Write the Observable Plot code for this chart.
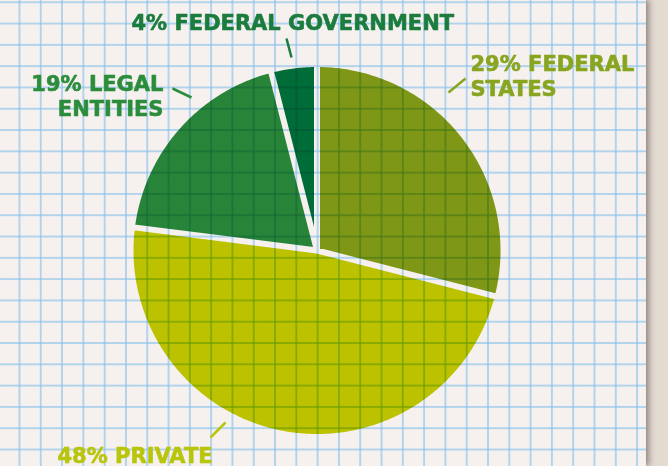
<!DOCTYPE html>
<html>
<head>
<meta charset="utf-8">
<script src="https://cdn.jsdelivr.net/npm/d3@7"></script>
<script src="https://cdn.jsdelivr.net/npm/@observablehq/plot@0.6"></script>
<style>
  html, body { margin: 0; padding: 0; }
  #stage {
    position: relative; width: 668px; height: 466px; overflow: hidden;
    background: #e4dbd3;
  }
  #paper {
    position: absolute; left: 0; top: 0; width: 646px; height: 466px;
    background-color: #f6f1ef;
    background-image:
      linear-gradient(to right, rgba(135,192,234,0.62) 1.6px, transparent 1.6px),
      linear-gradient(to bottom, rgba(135,192,234,0.62) 1.6px, transparent 1.6px);
    background-size: 21.3px 21.3px;
    background-position: 18.5px 1.3px;
    box-shadow: 3px 0 6px rgba(60,50,45,0.5);
  }
  #chart { position: absolute; left: 0; top: 0; }
</style>
</head>
<body>
<div id="stage"><div id="paper"></div><div id="chart"></div></div>
<script>
// ---- data ----
const categories = ["Federal states", "Private", "Legal entities", "Federal government"];
const shares = [29, 48, 19, 4];
const labels = ["29% FEDERAL\nSTATES", "48% PRIVATE", "19% LEGAL\nENTITIES", "4% FEDERAL GOVERNMENT"];
const sliceColors = ["#84a018", "#c4ce00", "#288c3b", "#00723a"];
const textColors = ["#88a520", "#b8c50a", "#2b8d3b", "#1b7c3e"];

// ---- layout (pixels) ----
const pie = {cx: 316.5, cy: 250, r: 186.5};
const labelLayout = [
  {tx: 470, ty: 95, anchor: "start", x1: 448, y1: 92, x2: 465, y2: 78},
  {tx: 57, ty: 462, anchor: "start", x1: 210, y1: 437, x2: 225, y2: 422},
  {tx: 163, ty: 115, anchor: "end", x1: 172, y1: 88, x2: 191, y2: 97},
  {tx: 131, ty: 29, anchor: "start", x1: 286, y1: 38, x2: 291, y2: 57}
];

const arcs = d3.pie().sort(null).value(d => d)(shares);
const slicePoints = arcs.map((a) => {
  const pts = [{x: pie.cx, y: pie.cy}];
  const n = Math.max(2, Math.ceil((a.endAngle - a.startAngle) / 0.01));
  for (let k = 0; k <= n; k++) {
    const t = a.startAngle + (a.endAngle - a.startAngle) * k / n;
    pts.push({x: pie.cx + pie.r * Math.sin(t), y: pie.cy - pie.r * Math.cos(t)});
  }
  pts.push({x: pie.cx, y: pie.cy});
  return pts;
});

const marks = [];
categories.forEach((c, i) => {
  marks.push(Plot.line(slicePoints[i], {
    x: "x", y: "y", fill: sliceColors[i], stroke: "white", strokeWidth: 6,
    strokeLinejoin: "round", mixBlendMode: "multiply", curve: "linear"
  }));
});
categories.forEach((c, i) => {
  const L = labelLayout[i];
  marks.push(Plot.link([L], {x1: "x1", y1: "y1", x2: "x2", y2: "y2", stroke: textColors[i], strokeWidth: 2.5}));
  marks.push(Plot.text([labels[i]], {
    x: () => L.tx, y: () => L.ty, text: d => d, fill: textColors[i],
    stroke: textColors[i], strokeWidth: 0.6,
    fontSize: 21, fontWeight: "bold", fontFamily: "DejaVu Sans",
    textAnchor: L.anchor, lineAnchor: "bottom", lineHeight: 25 / 21
  }));
});

const chart = Plot.plot({
  width: 668, height: 466,
  margin: 0,
  x: {type: "identity", axis: null},
  y: {type: "identity", axis: null},
  style: {background: "none", overflow: "visible"},
  marks
});
document.getElementById("chart").appendChild(chart);
</script>
</body>
</html>
